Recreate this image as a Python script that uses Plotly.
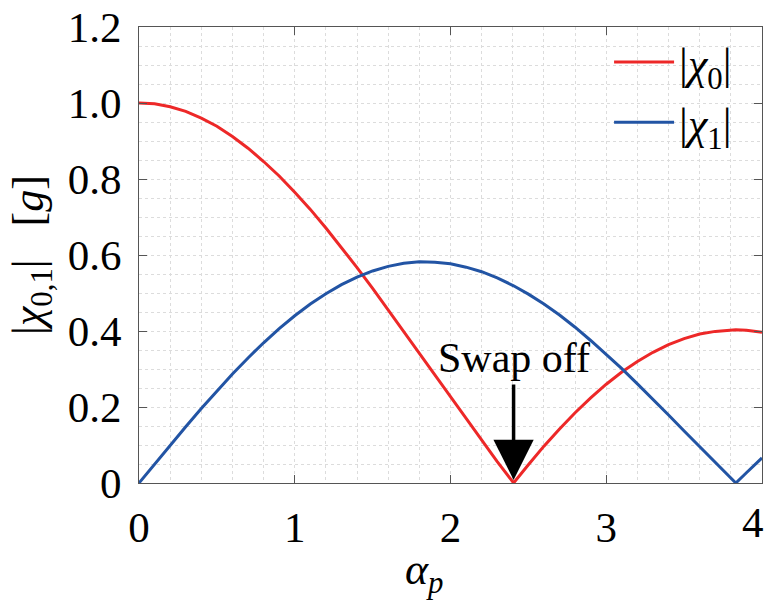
import plotly.graph_objects as go

alpha_p = [0.0, 0.1, 0.2, 0.3, 0.4, 0.5, 0.6, 0.7, 0.8, 0.9,
           1.0, 1.1, 1.2, 1.3, 1.4, 1.5, 1.6, 1.7, 1.8, 1.9,
           2.0, 2.1, 2.2, 2.3, 2.4, 2.405, 2.5, 2.6, 2.7, 2.8, 2.9,
           3.0, 3.1, 3.2, 3.3, 3.4, 3.5, 3.6, 3.7, 3.8, 3.832, 3.9, 4.0]

chi0 = [1.000, 0.998, 0.990, 0.978, 0.960, 0.939, 0.912, 0.881, 0.846, 0.808,
        0.765, 0.720, 0.671, 0.620, 0.567, 0.512, 0.455, 0.398, 0.340, 0.282,
        0.224, 0.167, 0.110, 0.056, 0.003, 0.000, 0.048, 0.097, 0.142, 0.185, 0.224,
        0.260, 0.292, 0.320, 0.344, 0.364, 0.380, 0.392, 0.399, 0.403, 0.403, 0.402, 0.397]

chi1 = [0.000, 0.050, 0.100, 0.148, 0.196, 0.242, 0.287, 0.329, 0.369, 0.406,
        0.440, 0.471, 0.498, 0.522, 0.542, 0.558, 0.570, 0.578, 0.582, 0.581,
        0.577, 0.568, 0.556, 0.540, 0.520, 0.519, 0.497, 0.471, 0.442, 0.410, 0.375,
        0.339, 0.301, 0.261, 0.221, 0.179, 0.137, 0.096, 0.054, 0.013, 0.000, 0.027, 0.066]

swap_x = 2.405
swap_y = 0.0

yticks = [0, 0.2, 0.4, 0.6, 0.8, 1.0, 1.2]
ytick_text = ["0", "0.2", "0.4", "0.6", "0.8", "1.0", "1.2"]
xticks = [0, 1, 2, 3, 4]
xtick_text = ["0", "1", "2", "3", ""]
last_xtick = "4"

FONT = "Liberation Serif"
RED = "rgb(237,40,40)"
BLUE = "rgb(34,84,164)"

fig = go.Figure()
fig.add_trace(go.Scatter(x=alpha_p, y=chi0, mode="lines", name="|<i>χ</i><sub>0</sub>|",
                         line=dict(color=RED, width=3)))
fig.add_trace(go.Scatter(x=alpha_p, y=chi1, mode="lines", name="|<i>χ</i><sub>1</sub>|",
                         line=dict(color=BLUE, width=3)))

fig.add_annotation(x=swap_x, y=swap_y, xref="x", yref="y", text="",
                   showarrow=True, ax=0, ay=-100, arrowhead=2, arrowwidth=3.5,
                   arrowsize=2.3, arrowcolor="black", standoff=3)
fig.add_annotation(x=swap_x, y=swap_y, xref="x", yref="y", text="Swap off",
                   showarrow=False, yshift=125, font=dict(family=FONT, size=42, color="black"))
# last x tick label, kept inside the page like the reference
fig.add_annotation(x=xticks[-1], y=0, xref="x", yref="y", text=last_xtick,
                   showarrow=False, xanchor="right", yanchor="top", yshift=-14, xshift=4,
                   font=dict(family=FONT, size=43, color="black"))
# x-axis title
fig.add_annotation(x=0.459, y=0, xref="paper", yref="paper", text="<i>α</i><sub><i>p</i></sub>",
                   showarrow=False, xanchor="center", yanchor="top", yshift=-60,
                   font=dict(family=FONT, size=44, color="black"))

axis_common = dict(
    showline=True, linecolor="#555", linewidth=1, mirror="allticks",
    ticks="inside", ticklen=8, tickcolor="#555",
    showgrid=True, gridcolor="#dcdcdc", griddash="dot", gridwidth=1,
    zeroline=False, tickfont=dict(family=FONT, size=43, color="black"),
    ticklabeloverflow="allow", automargin=False,
)

fig.update_xaxes(range=[0, 4], tickvals=xticks, ticktext=xtick_text, **axis_common,
                 minor=dict(dtick=0.2, showgrid=True, gridcolor="#dcdcdc", griddash="dot", ticks=""),
                 ticklabelstandoff=6)
fig.update_yaxes(range=[0, 1.2], tickvals=yticks, ticktext=ytick_text, **axis_common,
                 minor=dict(dtick=0.05, showgrid=True, gridcolor="#dcdcdc", griddash="dot", ticks=""),
                 ticklabelstandoff=8,
                 title=dict(text="|<i>χ</i><sub>0,1</sub>|\u00a0\u00a0\u00a0[<i>g</i>]",
                            font=dict(family=FONT, size=44, color="black"), standoff=10))

fig.update_layout(
    width=764, height=601,
    margin=dict(l=139, r=2, t=27, b=118),
    plot_bgcolor="white", paper_bgcolor="white",
    showlegend=True,
    legend=dict(x=0.96, y=1.0, xanchor="right", yanchor="top", bgcolor="rgba(0,0,0,0)",
                font=dict(family=FONT, size=44, color="black"), itemwidth=60, tracegroupgap=0),
)

fig.write_html("out.html")
